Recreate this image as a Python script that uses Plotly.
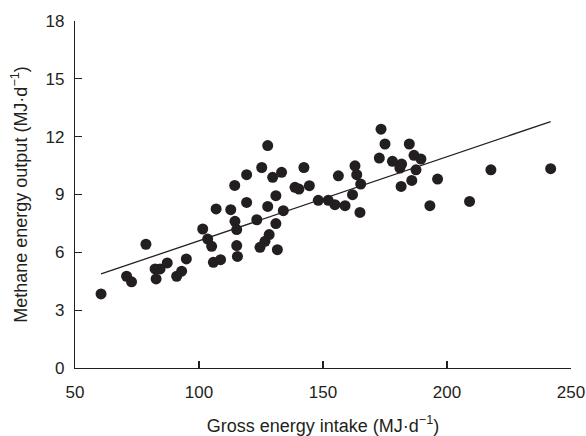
import numpy as np
import plotly.graph_objects as go

# Gross energy intake (MJ/d)
gei = [60.5, 70.8, 72.8, 78.6, 82.3, 82.7, 84.3, 87.2, 91.0, 93.0, 94.9,
       101.5, 103.5, 105.1, 105.8, 108.7, 106.9, 112.8, 114.4, 114.5, 115.2,
       115.2, 115.5, 127.7, 125.3, 119.2, 129.7, 133.3, 142.3, 138.7, 140.3,
       144.5, 156.2, 162.9, 163.6, 165.2, 131.0, 119.2, 127.7, 134.0, 148.1,
       152.1, 154.8, 158.9, 161.9, 164.9, 123.3, 131.0, 128.3, 126.6, 124.6,
       131.6, 173.4, 175.0, 184.8, 172.7, 178.0, 181.7, 181.0, 186.7, 189.5,
       187.5, 185.8, 181.5, 196.2, 193.1, 209.1, 217.7, 241.8]
# Methane energy output (MJ/d)
meo = [3.84, 4.76, 4.47, 6.42, 5.14, 4.62, 5.14, 5.45, 4.76, 5.02, 5.66,
       7.21, 6.69, 6.31, 5.48, 5.62, 8.25, 8.21, 9.47, 7.61, 7.18,
       6.35, 5.79, 11.54, 10.40, 10.03, 9.89, 10.15, 10.40, 9.37, 9.28,
       9.46, 9.97, 10.49, 10.03, 9.54, 8.94, 8.59, 8.38, 8.16, 8.70,
       8.70, 8.47, 8.42, 8.99, 8.07, 7.69, 7.49, 6.92, 6.57, 6.26,
       6.14, 12.39, 11.62, 11.62, 10.89, 10.72, 10.58, 10.37, 11.03, 10.84,
       10.28, 9.73, 9.42, 9.80, 8.42, 8.64, 10.28, 10.34]

# Regression line
slope = 0.0436
intercept = 2.24

x_ticks = [50, 100, 150, 200, 250]
y_ticks = [0, 3, 6, 9, 12, 15, 18]

ink = "#231f20"
font = "Liberation Sans, Arial, sans-serif"

line_x = np.array([min(gei), max(gei)])
line_y = intercept + slope * line_x

fig = go.Figure()
fig.add_trace(go.Scatter(x=gei, y=meo, mode="markers",
                         marker=dict(size=11, color=ink, line=dict(width=0)),
                         showlegend=False, hoverinfo="skip"))
fig.add_trace(go.Scatter(x=line_x, y=line_y, mode="lines",
                         line=dict(color=ink, width=1.3),
                         showlegend=False, hoverinfo="skip"))

axis_common = dict(showline=True, linecolor=ink, linewidth=1.2,
                   ticks="inside", ticklen=7, tickwidth=1.2, tickcolor=ink,
                   showgrid=False, zeroline=False, mirror=False,
                   automargin=False, ticklabeloverflow="allow",
                   tickfont=dict(family=font, size=17, color=ink))

fig.update_xaxes(range=[50, 250], tickvals=x_ticks, ticklabelstandoff=8,
                 title=dict(text="Gross energy intake (MJ·d<sup>−1</sup>)",
                            font=dict(family=font, size=18, color=ink),
                            standoff=18),
                 **axis_common)
fig.update_yaxes(range=[0, 18], tickvals=y_ticks, ticklabelstandoff=6,
                 title=dict(text="Methane energy output (MJ·d<sup>−1</sup>)",
                            font=dict(family=font, size=18, color=ink),
                            standoff=13),
                 **axis_common)

fig.update_layout(width=586, height=436,
                  margin=dict(l=75, r=15, t=21, b=67.5),
                  paper_bgcolor="white", plot_bgcolor="white",
                  font=dict(family=font, color=ink))

# remove the page's default body margin so the figure fills the window
page_fix = ("document.body.style.margin='0';"
            "document.documentElement.style.overflow='hidden';"
            "document.body.style.overflow='hidden';")

fig.write_html("out.html", post_script=page_fix,
               config={"displayModeBar": False, "staticPlot": True})
